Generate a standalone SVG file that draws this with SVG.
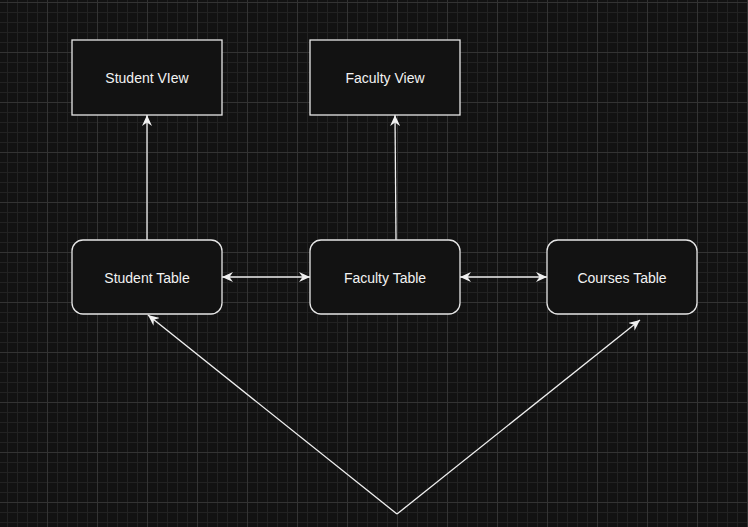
<svg xmlns="http://www.w3.org/2000/svg" width="748" height="527" viewBox="0 0 748 527">
<defs>
<pattern id="grid" x="-3" y="2" width="50" height="50" patternUnits="userSpaceOnUse">
<path d="M10.5,0V50M20.5,0V50M30.5,0V50M40.5,0V50M0,10.5H50M0,20.5H50M0,30.5H50M0,40.5H50" stroke="#222222" stroke-width="1" fill="none"/>
<path d="M0.5,0V50M0,0.5H50" stroke="#333333" stroke-width="1" fill="none"/>
</pattern>
<marker id="arr" viewBox="0 0 11 10" refX="11" refY="5" markerWidth="11" markerHeight="10" markerUnits="userSpaceOnUse" orient="auto-start-reverse">
<path d="M0,0 L11,5 L0,10 L3.5,5 Z" fill="#f0f0f0"/>
</marker>
<style>
.box{fill:#121212;stroke:#e6e6e6;stroke-width:1.3}
.lbl{font-family:"Liberation Sans",Arial,sans-serif;font-size:14px;fill:#f2f2f2;text-anchor:middle;dominant-baseline:central}
.conn{stroke:#f0f0f0;stroke-width:1.3;fill:none}
</style>
</defs>
<rect width="748" height="527" fill="#121212"/>
<rect width="748" height="527" fill="url(#grid)"/>
<g id="connectors">
<path class="conn" d="M147,240 V115" marker-end="url(#arr)"/>
<path class="conn" d="M396,240 L395,115" marker-end="url(#arr)"/>
<path class="conn" d="M222,277 H310" marker-start="url(#arr)" marker-end="url(#arr)"/>
<path class="conn" d="M460,277 H547" marker-start="url(#arr)" marker-end="url(#arr)"/>
<path class="conn" d="M397,514 L148,315" marker-end="url(#arr)"/>
<path class="conn" d="M397,514 L640,320" marker-end="url(#arr)"/>
</g>
<g id="student-view">
<rect class="box" x="72" y="40" width="150" height="75"/>
<text class="lbl" x="147" y="78">Student VIew</text>
</g>
<g id="faculty-view">
<rect class="box" x="310" y="40" width="150" height="75"/>
<text class="lbl" x="385" y="78">Faculty View</text>
</g>
<g id="student-table">
<rect class="box" x="72" y="240" width="150" height="74" rx="11" ry="11"/>
<text class="lbl" x="147" y="278">Student Table</text>
</g>
<g id="faculty-table">
<rect class="box" x="310" y="240" width="150" height="74" rx="11" ry="11"/>
<text class="lbl" x="385" y="278">Faculty Table</text>
</g>
<g id="courses-table">
<rect class="box" x="547" y="240" width="150" height="74" rx="11" ry="11"/>
<text class="lbl" x="622" y="278">Courses Table</text>
</g>
</svg>
